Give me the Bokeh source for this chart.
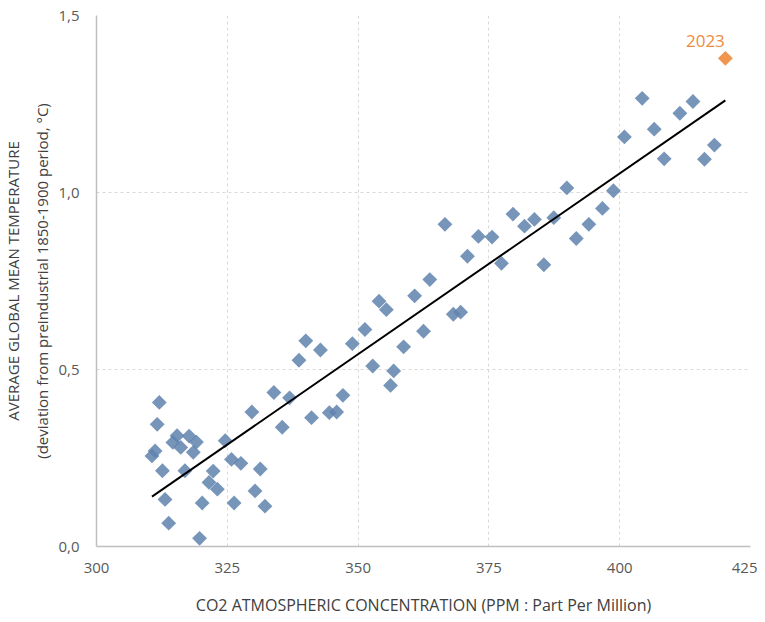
import numpy as np
from bokeh.plotting import figure
from bokeh.models import ColumnDataSource, Label, FixedTicker
from bokeh.embed import file_html
from bokeh.resources import INLINE

# CO2 concentration (ppm) and temperature anomaly (°C), 1950-2022
co2 = [310.6, 311.2, 311.6, 312.0, 312.6, 313.1, 313.8, 314.6, 315.4, 316.1,
       316.9, 317.7, 318.5, 319.1, 319.7, 320.2, 321.5, 322.3, 323.1, 324.6,
       325.8, 326.3, 327.6, 329.7, 330.3, 331.3, 332.2, 333.9, 335.5, 336.9,
       338.7, 340.0, 341.1, 342.8, 344.5, 345.9, 347.1, 348.9, 351.3, 352.8,
       354.0, 355.4, 356.2, 356.8, 358.7, 360.8, 362.5, 363.7, 366.6, 368.2,
       369.6, 370.9, 373.0, 375.6, 377.4, 379.6, 381.8, 383.7, 385.5, 387.4,
       389.9, 391.7, 394.1, 396.7, 398.8, 400.9, 404.3, 406.6, 408.5, 411.5,
       414.0, 416.2, 418.1]
temp = [0.256, 0.270, 0.345, 0.407, 0.214, 0.133, 0.066, 0.294, 0.313, 0.280,
        0.214, 0.312, 0.266, 0.295, 0.023, 0.123, 0.181, 0.213, 0.162, 0.299,
        0.246, 0.123, 0.235, 0.380, 0.157, 0.219, 0.114, 0.435, 0.337, 0.420,
        0.526, 0.581, 0.364, 0.555, 0.378, 0.380, 0.427, 0.573, 0.613, 0.510,
        0.693, 0.669, 0.455, 0.496, 0.564, 0.708, 0.608, 0.754, 0.910, 0.656,
        0.662, 0.820, 0.876, 0.874, 0.800, 0.939, 0.905, 0.924, 0.796, 0.929,
        1.013, 0.870, 0.910, 0.955, 1.005, 1.157, 1.266, 1.179, 1.095, 1.224,
        1.257, 1.094, 1.134]
# 2023 highlight
co2_2023 = [420.2]
temp_2023 = [1.379]
label_2023 = "2023"

x_ticks = [300, 325, 350, 375, 400, 425]
y_ticks = [0.0, 0.5, 1.0, 1.5]
y_tick_labels = ["0,0", "0,5", "1,0", "1,5"]

FONT = "Open Sans"

p = figure(width=757, height=618, x_range=(300, 425), y_range=(0, 1.5),
           output_backend="svg", toolbar_location=None,
           min_border_left=89, min_border_right=7, min_border_top=15, min_border_bottom=72)
p.outline_line_color = None
p.background_fill_color = "white"

# grids
for g in (p.xgrid, p.ygrid):
    g.grid_line_color = "#d9d9d9"
    g.grid_line_dash = "3 3"
    g.grid_line_width = 1
p.xaxis.ticker = FixedTicker(ticks=x_ticks)
p.yaxis.ticker = FixedTicker(ticks=y_ticks)
p.yaxis.major_label_overrides = {t: l for t, l in zip(y_ticks, y_tick_labels)}

for ax in (p.xaxis, p.yaxis):
    ax.axis_line_color = "#bfbfbf"
    ax.axis_line_width = 1.5
    ax.major_tick_line_color = None
    ax.minor_tick_line_color = None
    ax.major_label_text_font = FONT
    ax.major_label_text_font_size = "15px"
    ax.major_label_text_color = "#595959"
    ax.axis_label_text_font = FONT
    ax.axis_label_text_font_style = "normal"
    ax.axis_label_text_color = "#404040"

p.xaxis.axis_label = "CO2 ATMOSPHERIC CONCENTRATION (PPM : Part Per Million)"
p.yaxis.axis_label = "AVERAGE GLOBAL MEAN TEMPERATURE\n(deviation from preindustrial 1850-1900 period, °C)"
p.xaxis.axis_label_text_font_size = "16px"
p.yaxis.axis_label_text_font_size = "15px"
p.yaxis.axis_label_text_line_height = 1.45
p.xaxis.major_label_standoff = 10
p.yaxis.major_label_standoff = 11
p.xaxis.axis_label_standoff = 18
p.yaxis.axis_label_standoff = 3

# regression line (least squares over all points)
all_x = np.array(co2 + co2_2023)
all_y = np.array(temp + temp_2023)
slope, intercept = np.polyfit(all_x, all_y, 1)
lx = [all_x.min(), all_x.max()]
ly = [slope * v + intercept for v in lx]

src = ColumnDataSource(dict(x=co2, y=temp))
p.scatter("x", "y", source=src, marker="square", angle=np.pi / 4, size=10.5,
          fill_color="#5f82ad", fill_alpha=0.85, line_color=None)
p.line(lx, ly, line_color="black", line_width=2)
p.scatter(co2_2023, temp_2023, marker="square", angle=np.pi / 4, size=10.5,
          fill_color="#f0964f", line_color=None)

p.add_layout(Label(x=co2_2023[0], y=temp_2023[0], text=label_2023, x_offset=-20, y_offset=11,
                   text_align="center", text_baseline="bottom", text_font=FONT,
                   text_font_size="17px", text_color="#ee8b3e"))

open("out.html", "w").write(file_html(p, INLINE))
